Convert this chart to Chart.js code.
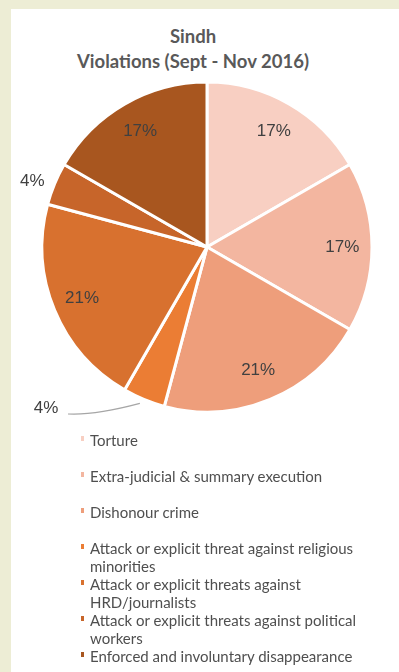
<!DOCTYPE html>
<html>
<head>
<meta charset="utf-8">
<script src="https://cdn.jsdelivr.net/npm/chart.js@4"></script>
<style>
  html, body { margin: 0; padding: 0; }
  body { width: 399px; height: 672px; background: #ededd5; position: relative; overflow: hidden; }
  #panel { position: absolute; left: 11px; top: 9px; right: 0; bottom: 0; background: #fff; }
  #pie { position: absolute; left: 0; top: 0; }
  #title {
    position: absolute; left: 0; width: 386px; top: 24px;
    text-align: center; font-family: Lato, sans-serif; font-weight: bold;
    font-size: 18.5px; line-height: 25px; color: #595959;
  }
  #legend {
    position: absolute; left: 80px; top: 431px; margin: 0; padding: 0; list-style: none;
    font-family: Lato, sans-serif; font-size: 15px; line-height: 18px; color: #4f4f4f;
  }
  #legend li { position: relative; height: 36px; padding-left: 10px; }
  #legend li span { position: absolute; left: 1px; top: 5px; width: 3px; height: 5px; }
</style>
</head>
<body>
<div id="panel"></div>
<div id="title">Sindh<br>Violations (Sept - Nov 2016)</div>
<canvas id="pie" width="399" height="672"></canvas>
<ul id="legend"></ul>
<script>
const categories = [
    "Torture",
    "Extra-judicial & summary execution",
    "Dishonour crime",
    ["Attack or explicit threat against religious", "minorities"],
    ["Attack or explicit threats against", "HRD/journalists"],
    ["Attack or explicit threats against political", "workers"],
    "Enforced and involuntary disappearance"
];
const cases = [4, 4, 5, 1, 5, 1, 4];
const sliceColors = ["#f8cfc2", "#f3b6a0", "#ee9e7b", "#eb7d34", "#d8712f", "#c7652a", "#a8561f"];

// where each percentage sits: fraction of the radius, and an optional angle shift (deg)
const labelSpots = [
    { r: 0.81 }, { r: 0.82 }, { r: 0.81 },
    { r: 1.38, shift: 22.5, leader: true },
    { r: 0.82 },
    { r: 1.13, shift: -2 },
    { r: 0.81 }
];

const total = cases.reduce((a, b) => a + b, 0);

const pctLabels = {
    id: "pctLabels",
    afterDatasetsDraw(chart) {
        const ctx = chart.ctx;
        const arcs = chart.getDatasetMeta(0).data;
        ctx.save();
        ctx.font = "17px 'Liberation Sans', Arial, sans-serif";
        ctx.fillStyle = "#404040";
        ctx.textAlign = "center";
        ctx.textBaseline = "middle";
        arcs.forEach((arc, i) => {
            const spot = labelSpots[i];
            const mid = (arc.startAngle + arc.endAngle) / 2;
            const ang = mid + (spot.shift || 0) * Math.PI / 180;
            const x = arc.x + Math.cos(ang) * arc.outerRadius * spot.r;
            const y = arc.y + Math.sin(ang) * arc.outerRadius * spot.r;
            if (spot.leader) {
                const ex = arc.x + Math.cos(mid) * arc.outerRadius;
                const ey = arc.y + Math.sin(mid) * arc.outerRadius;
                ctx.strokeStyle = "#a6a6a6";
                ctx.lineWidth = 1.2;
                ctx.beginPath();
                ctx.moveTo(ex - 4, ey + 4);
                ctx.quadraticCurveTo((ex + x) / 2, ey + 16, x + 22, y + 6);
                ctx.stroke();
            }
            const pct = Math.round(cases[i] / total * 100) + "%";
            ctx.fillText(pct, x, y);
        });
        ctx.restore();
    }
};

const chart = new Chart(document.getElementById("pie"), {
    type: "pie",
    data: {
        labels: categories,
        datasets: [{
            data: cases,
            backgroundColor: sliceColors,
            borderColor: "#ffffff",
            borderWidth: 3
        }]
    },
    options: {
        responsive: false,
        animation: false,
        radius: 165,
        layout: { padding: { left: 15, right: 0, top: 0, bottom: 178 } },
        plugins: {
            legend: { display: false },
            tooltip: { enabled: false }
        }
    },
    plugins: [pctLabels]
});

// legend list under the pie
const legendBox = document.getElementById("legend");
categories.forEach((name, i) => {
    const li = document.createElement("li");
    const text = Array.isArray(name) ? name.join("<br>") : name;
    li.innerHTML = `<span style="background:${sliceColors[i]}"></span>${text}`;
    legendBox.appendChild(li);
});
</script>
</body>
</html>
